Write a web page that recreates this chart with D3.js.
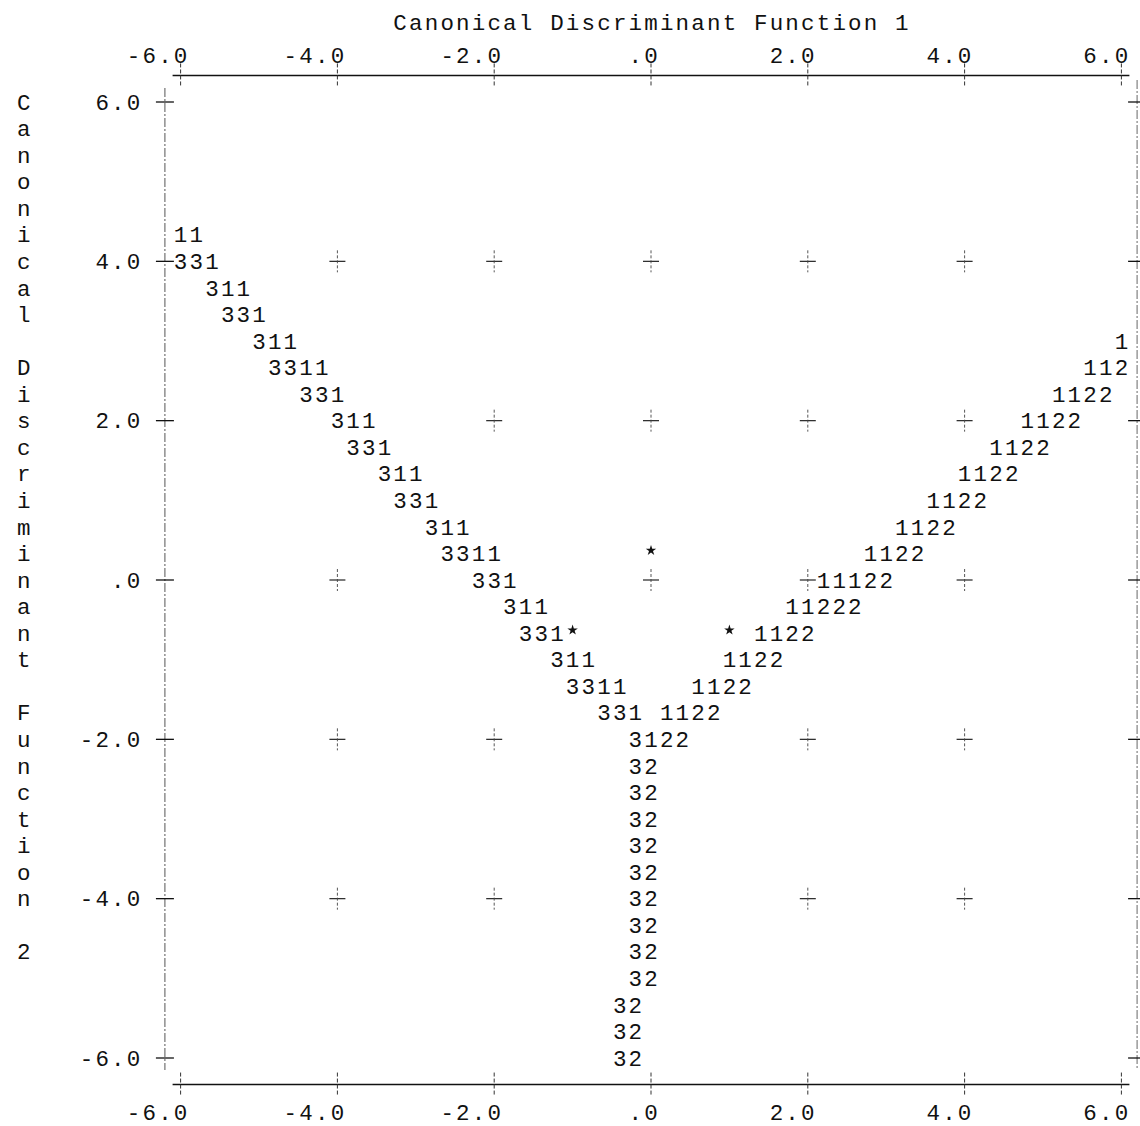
<!DOCTYPE html>
<html><head><meta charset="utf-8">
<script src="https://cdn.jsdelivr.net/npm/d3@7"></script>
<style>body{margin:0;background:#fff}svg{display:block}</style>
</head><body>
<svg id="c" width="1140" height="1126"></svg>
<script>
// ---------- data ----------
const xTicks = [-6, -4, -2, 0, 2, 4, 6];
const xTickLabels = ["-6.0", "-4.0", "-2.0", ".0", "2.0", "4.0", "6.0"];
const yTicks = [6, 4, 2, 0, -2, -4, -6];
const yTickLabels = ["6.0", "4.0", "2.0", ".0", "-2.0", "-4.0", "-6.0"];
const xTitle = "Canonical Discriminant Function 1";
const yTitle = "Canonical Discriminant Function 2";
const gridXs = [-4, -2, 0, 2, 4];
const gridYs = [4, 2, 0, -2, -4];
// territory boundary rows: [Function 2 value, Function 1 value of first char, symbols]
const boundary31 = [
  [4.33, -6.0, "11"], [4.00, -6.0, "331"], [3.67, -5.6, "311"], [3.33, -5.4, "331"],
  [3.00, -5.0, "311"], [2.67, -4.8, "3311"], [2.33, -4.4, "331"], [2.00, -4.0, "311"],
  [1.67, -3.8, "331"], [1.33, -3.4, "311"], [1.00, -3.2, "331"], [0.67, -2.8, "311"],
  [0.33, -2.6, "3311"], [0.00, -2.2, "331"], [-0.33, -1.8, "311"], [-0.67, -1.6, "331"],
  [-1.00, -1.2, "311"], [-1.33, -1.0, "3311"], [-1.67, -0.6, "331"]
];
const boundary12 = [
  [3.00, 6.0, "1"], [2.67, 5.6, "112"], [2.33, 5.2, "1122"], [2.00, 4.8, "1122"],
  [1.67, 4.4, "1122"], [1.33, 4.0, "1122"], [1.00, 3.6, "1122"], [0.67, 3.2, "1122"],
  [0.33, 2.8, "1122"], [0.00, 2.2, "11122"], [-0.33, 1.8, "11222"], [-0.67, 1.4, "1122"],
  [-1.00, 1.0, "1122"], [-1.33, 0.6, "1122"], [-1.67, 0.2, "1122"]
];
const boundary32 = [
  [-2.00, -0.2, "3122"], [-2.33, -0.2, "32"], [-2.67, -0.2, "32"], [-3.00, -0.2, "32"],
  [-3.33, -0.2, "32"], [-3.67, -0.2, "32"], [-4.00, -0.2, "32"], [-4.33, -0.2, "32"],
  [-4.67, -0.2, "32"], [-5.00, -0.2, "32"], [-5.33, -0.4, "32"], [-5.67, -0.4, "32"],
  [-6.00, -0.4, "32"]
];
// group centroids (shown as stars)
const centroidX = [-1.0, 0.0, 1.0];
const centroidY = [-0.67, 0.33, -0.67];

// ---------- layout ----------
const svg = d3.select("#c");
const x = d3.scaleLinear().domain([-6, 6]).range([180.6, 1121.4]);
const y = d3.scaleLinear().domain([-6, 6]).range([1058, 102]);
const CPU = 5, RPU = 3;                // characters per unit, rows per unit
const cw = (x(1) - x(0)) / CPU;        // char cell width
const rh = (y(0) - y(1)) / RPU;        // row height
const FONT = "'Liberation Mono','Courier New',monospace";
const FS = 22.5;

function putChars(str, col, row, g) {
  [...str].forEach((ch, i) => {
    if (ch === " ") return;
    g.append("text")
      .attr("x", x((col + i) / CPU))
      .attr("y", y(row / RPU))
      .attr("dy", "0.34em")
      .attr("text-anchor", "middle")
      .text(ch);
  });
}

const gLines = svg.append("g").attr("stroke", "#222").attr("fill", "none");
const gText = svg.append("g").attr("font-family", FONT).attr("font-size", FS).attr("fill", "#111");

// occupied cells
const occupied = new Set();
function addRows(rows) {
  rows.forEach(([yv, xv, s]) => {
    const row = Math.round(yv * RPU), col = Math.round(xv * CPU);
    [...s].forEach((ch, i) => { if (ch !== " ") occupied.add(row + ":" + (col + i)); });
    putChars(s, col, row, gText);
  });
}
addRows(boundary31);
addRows(boundary12);
addRows(boundary32);
const star = d3.symbol().type(d3.symbolStar).size(34);
centroidX.forEach((cx, i) => {
  const row = Math.round(centroidY[i] * RPU), col = Math.round(cx * CPU);
  occupied.add(row + ":" + col);
  svg.append("path").attr("d", star())
    .attr("transform", `translate(${x(col / CPU)},${y(row / RPU) - 3})`)
    .attr("fill", "#111");
});

// interior plus markers
function plus(px, py, g) {
  g.append("line").attr("x1", px - 8).attr("x2", px + 8).attr("y1", py).attr("y2", py).attr("stroke-width", 1.2);
  g.append("line").attr("x1", px).attr("x2", px).attr("y1", py - 11).attr("y2", py + 11)
    .attr("stroke-width", 0.9).attr("stroke-dasharray", "3,2").attr("stroke", "#444");
}
gridXs.forEach(gx => gridYs.forEach(gy => {
  const key = Math.round(gy * RPU) + ":" + Math.round(gx * CPU);
  if (!occupied.has(key)) plus(x(gx), y(gy), gLines);
}));

// top and bottom axes
const topY = y(6) - rh, botY = y(-6) + rh;
[topY, botY].forEach(ay => {
  gLines.append("line").attr("x1", x(-6) - 8).attr("x2", x(6) + 8).attr("y1", ay).attr("y2", ay)
    .attr("stroke-width", 1.6).attr("stroke", "#111");
  xTicks.forEach(t => {
    gLines.append("line").attr("x1", x(t)).attr("x2", x(t)).attr("y1", ay - 12).attr("y2", ay + 12)
      .attr("stroke-width", 1).attr("stroke-dasharray", "4,2").attr("stroke", "#333");
  });
});
// tick labels (right-aligned at the tick column)
xTicks.forEach((t, i) => {
  const lab = xTickLabels[i];
  const col = Math.round(t * CPU) - lab.length + 1;
  [...lab].forEach((ch, k) => {
    [topY - 20, botY + 28].forEach(ly => {
      gText.append("text").attr("x", x((col + k) / CPU)).attr("y", ly).attr("dy", "0.34em")
        .attr("text-anchor", "middle").text(ch);
    });
  });
});
// top title
{
  const n = xTitle.length;
  const col0 = -Math.floor(n / 2);
  [...xTitle].forEach((ch, k) => {
    if (ch === " ") return;
    gText.append("text").attr("x", x((col0 + k) / CPU)).attr("y", 22).attr("dy", "0.34em")
      .attr("text-anchor", "middle").text(ch);
  });
}

// left and right frame lines
const leftX = x(-6) - cw, rightX = x(6) + cw;
gLines.append("line").attr("x1", leftX).attr("x2", leftX).attr("y1", y(6) - 14).attr("y2", y(-6) + 12)
  .attr("stroke-width", 1).attr("stroke-dasharray", "9,2,2,2").attr("stroke", "#555");
gLines.append("line").attr("x1", rightX).attr("x2", rightX).attr("y1", y(6) - 22).attr("y2", y(-6) + 12)
  .attr("stroke-width", 1).attr("stroke-dasharray", "9,2,2,2").attr("stroke", "#666");
yTicks.forEach(t => {
  [leftX, rightX].forEach(fx => {
    gLines.append("line").attr("x1", fx - 9).attr("x2", fx + 9).attr("y1", y(t)).attr("y2", y(t))
      .attr("stroke-width", 1.3).attr("stroke", "#111");
  });
});
// y tick labels: end two columns left of the frame
yTicks.forEach((t, i) => {
  const lab = yTickLabels[i];
  const endCol = Math.round(-6 * CPU) - 3;
  const col = endCol - lab.length + 1;
  putChars(lab, col, Math.round(t * RPU), gText);
});
// vertical title, one character per row
[...yTitle].forEach((ch, k) => {
  if (ch === " ") return;
  gText.append("text").attr("x", x(-40 / CPU)).attr("y", y((18 - k) / RPU)).attr("dy", "0.34em")
    .attr("text-anchor", "middle").text(ch);
});
</script>
</body></html>
